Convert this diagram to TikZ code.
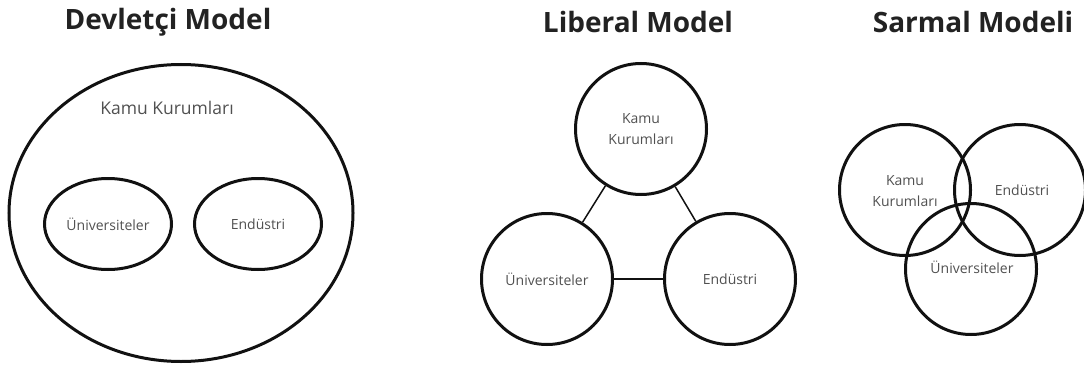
\documentclass[tikz,border=0pt]{standalone}
\usepackage{fontspec}
\setmainfont{Open Sans}
\usetikzlibrary{shapes.geometric}
\definecolor{txt}{HTML}{505050}
\definecolor{ttl}{HTML}{222222}
\definecolor{ln}{HTML}{111111}
\begin{document}
\begin{tikzpicture}[x=1pt,y=-1pt,
  title/.style={font=\fontsize{28}{33}\selectfont\bfseries, text=ttl},
  lbl/.style={font=\fontsize{14}{21.5}\selectfont, text=txt, align=center},
  bigl/.style={font=\fontsize{17.5}{22}\selectfont, text=txt},
  ring/.style={circle, draw=ln, line width=3pt, minimum size=131pt, inner sep=0pt},
  oval/.style={ellipse, draw=ln, line width=3pt, inner sep=0pt},
  link/.style={draw=ln, line width=1.5pt}]
\useasboundingbox (0,0) rectangle (1084,369);
% Devletci Model
\node[title] (t1) at (168,22) {Devletçi Model};
\node[oval, minimum width=344pt, minimum height=297pt] (dbig) at (181,213) {};
\node[bigl] (dk) at (167,108) {Kamu Kurumları};
\node[oval, lbl, minimum width=127pt, minimum height=91pt] (du) at (108,224) {Üniversiteler};
\node[oval, lbl, minimum width=127pt, minimum height=91pt] (de) at (258,224) {Endüstri};
% Liberal Model
\node[title] (t2) at (638,22) {Liberal Model};
\node[ring, lbl] (lk) at (641,129) {Kamu\\Kurumları};
\node[ring, lbl] (lu) at (547,279) {Üniversiteler};
\node[ring, lbl] (le) at (730,279) {Endüstri};
\draw[link] (lk) -- (lu);
\draw[link] (lk) -- (le);
\draw[link] (lu) -- (le);
% Sarmal Modeli
\node[title] (t3) at (973,22) {Sarmal Modeli};
\node[ring] (sk) at (905,190) {};
\node[ring] (se) at (1020,190) {};
\node[ring] (su) at (971,269) {};
\node[lbl] (skt) at (905,191) {Kamu\\Kurumları};
\node[lbl] (set) at (1022,190) {Endüstri};
\node[lbl] (sut) at (972,267) {Üniversiteler};
\end{tikzpicture}
\end{document}
